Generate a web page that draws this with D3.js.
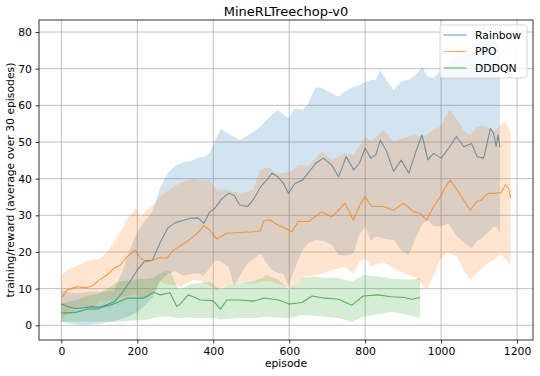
<!DOCTYPE html>
<html>
<head>
<meta charset="utf-8">
<script src="https://cdn.jsdelivr.net/npm/d3@7"></script>
<style>
  html, body { margin: 0; padding: 0; background: #fff; }
  svg { display: block; font-family: "DejaVu Sans", sans-serif; }
</style>
</head>
<body>
<svg id="chart" width="540" height="376"></svg>
<script>
// ---------------- data ----------------
const title = "MineRLTreechop-v0";
const xLabel = "episode";
const yLabel = "training/reward (average over 30 episodes)";
const xTicks = [0, 200, 400, 600, 800, 1000, 1200];
const yTicks = [0, 10, 20, 30, 40, 50, 60, 70, 80];
const seriesNames = ["Rainbow", "PPO", "DDDQN"];

const rainbowEp   = [0,20,40,60,80,100,120,140,160,180,200,220,240,260,280,300,320,340,360,375,390,405,420,440,455,470,490,505,525,540,555,570,585,598,615,635,650,670,690,712,730,750,770,785,800,815,828,840,855,875,895,915,935,950,965,980,1000,1020,1040,1060,1080,1095,1112,1130,1138,1145,1150,1155];
const rainbowMean = [5.8,5.0,4.6,4.8,5.1,4.9,5.6,6.5,8.8,11.8,15.1,17.6,17.8,22.5,26.5,28.0,28.6,29.2,29.3,27.8,30.8,32.0,34.2,36.0,35.5,32.8,32.4,34.2,37.8,39.5,41.5,40.5,38.7,36.0,38.7,39.6,41.5,44.2,45.6,43.7,40.5,46.0,42.4,44.2,48.3,45.6,46.5,50.5,47.8,42.0,45.1,41.5,47.8,51.9,45.1,46.9,45.6,48.3,51.5,48.7,49.6,46.0,45.6,53.7,52.4,48.7,51.9,48.5];
const rainbowLo   = [1.0,0.5,0.2,0.0,0.2,0.4,0.8,1.2,1.8,2.5,3.5,5.5,7.5,12.0,14.0,14.8,13.5,14.0,14.2,13.5,15.5,17.8,17.5,16.0,10.8,13.5,16.9,18.0,19.6,17.0,15.0,14.2,14.0,10.8,15.5,20.5,22.4,23.3,23.0,22.0,19.2,19.0,19.7,25.0,26.9,23.0,24.2,24.0,23.5,23.3,20.5,19.2,24.2,27.5,28.7,27.0,27.0,27.8,24.5,22.5,21.0,23.0,24.2,26.0,26.9,26.9,26.0,25.0];
const rainbowHi   = [9.5,9.0,8.8,9.0,9.2,9.0,9.2,9.6,14.5,20.5,25.5,28.5,31.0,37.5,41.5,43.5,44.5,44.8,45.8,46.0,46.9,50.5,53.7,52.2,51.5,50.5,51.8,52.8,54.2,56.0,57.5,58.7,57.5,56.5,59.2,58.7,60.5,65.1,64.5,63.3,62.4,64.0,65.1,65.5,66.4,66.9,67.0,69.6,67.0,64.2,66.5,67.0,68.5,70.5,67.8,67.5,69.6,71.5,73.0,74.0,74.5,75.0,76.0,78.5,79.3,77.5,76.5,76.0];

const ppoEp   = [0,15,40,65,85,100,120,138,155,173,195,208,225,243,260,278,295,313,330,348,366,375,390,410,436,471,506,524,533,550,563,581,607,624,651,686,712,730,747,769,786,800,817,848,875,901,927,945,962,980,998,1016,1024,1042,1059,1077,1094,1106,1123,1141,1158,1169,1178,1183];
const ppoMean = [7.4,9.6,10.5,10.2,11.0,12.4,13.7,15.5,16.4,18.7,20.5,18.3,17.3,17.8,18.5,18.3,20.5,21.6,22.8,24.2,26.0,27.2,26.0,23.5,25.1,25.3,25.5,25.8,28.5,28.8,27.8,26.9,25.5,28.3,28.3,31.0,29.6,31.4,33.3,28.7,32.8,35.1,32.4,32.4,31.4,33.3,31.0,30.5,28.7,32.4,35.1,38.5,39.6,36.9,34.2,31.4,33.7,34.2,36.0,36.0,36.2,38.3,37.4,34.7];
const ppoLo   = [1.5,3.0,4.8,4.5,5.0,6.5,6.5,7.0,7.5,8.0,8.5,7.5,7.5,9.0,12.0,11.0,11.0,10.5,11.5,12.4,12.0,11.5,11.0,9.6,11.0,11.4,11.5,11.8,12.0,12.0,11.5,11.0,9.8,12.0,13.3,14.0,15.0,15.5,16.0,14.0,17.5,18.3,16.0,17.3,15.5,14.2,13.3,12.0,9.6,13.5,18.0,20.0,19.5,18.8,15.0,12.4,14.2,15.5,17.0,18.0,19.6,18.0,17.0,16.5];
const ppoHi   = [13.7,15.0,16.2,17.5,18.0,18.0,20.0,22.5,25.5,28.7,31.9,29.6,31.4,33.0,35.1,36.5,37.8,38.7,39.5,40.1,39.6,39.6,39.6,37.0,36.9,36.0,37.0,42.4,42.8,43.0,41.5,41.5,42.0,43.7,43.5,47.4,45.1,46.0,46.9,46.5,49.0,51.5,50.2,53.3,50.0,51.0,51.9,51.5,51.9,53.5,54.2,57.8,58.7,56.0,53.3,52.0,54.0,54.5,54.0,53.0,55.0,55.5,53.7,53.0];

const dddqnEp   = [0,20,41,67,94,112,129,147,173,190,216,243,260,286,304,313,334,348,366,392,401,419,436,471,506,532,537,572,600,634,660,695,730,765,795,834,869,904,922,945];
const dddqnMean = [3.4,3.4,3.6,4.4,4.4,5.1,5.5,6.2,7.4,7.4,7.4,9.0,8.3,8.9,5.1,5.8,8.3,7.8,6.9,6.8,6.6,4.4,6.9,6.9,6.6,7.4,7.4,6.9,5.8,6.2,8.0,7.4,7.1,5.5,8.0,8.3,7.8,7.6,7.1,7.6];
const dddqnLo   = [1.0,1.0,1.0,1.0,1.0,1.0,1.0,1.0,1.2,1.3,1.4,2.0,2.3,2.5,2.0,2.0,2.2,2.0,2.0,2.0,2.0,1.6,1.8,2.0,2.0,2.3,2.3,2.1,1.9,2.8,2.6,2.3,2.0,1.0,2.3,3.0,3.7,3.0,2.5,2.0];
const dddqnHi   = [6.0,6.5,7.0,8.0,8.5,9.5,10.5,11.9,12.2,12.4,12.6,13.0,14.2,15.0,10.5,9.6,11.0,11.4,11.6,11.8,11.0,9.6,11.0,11.4,12.0,13.0,13.7,12.4,9.6,12.8,13.3,13.0,13.0,11.9,13.7,13.3,12.8,12.5,12.5,12.8];

const colors = ["#1f77b4", "#ff7f0e", "#2ca02c"];

// ---------------- chart ----------------
const svg = d3.select("#chart");
const pL = 39, pR = 533, pT = 20, pB = 340;

const x = d3.scaleLinear().domain([-58.8, 1242]).range([pL, pR]);
const y = d3.scaleLinear().domain([-4.01, 83.28]).range([pB, pT]);

// grid
const grid = svg.append("g");
grid.selectAll("line.vx").data(xTicks).join("line")
  .attr("class", "vx")
  .attr("x1", d => x(d)).attr("x2", d => x(d))
  .attr("y1", pT).attr("y2", pB)
  .attr("stroke", "#b0b0b0").attr("stroke-width", 0.8);
grid.selectAll("line.hy").data(yTicks).join("line")
  .attr("class", "hy")
  .attr("x1", pL).attr("x2", pR)
  .attr("y1", d => y(d)).attr("y2", d => y(d))
  .attr("stroke", "#b0b0b0").attr("stroke-width", 0.8);

const series = [
  { ep: rainbowEp, mean: rainbowMean, lo: rainbowLo, hi: rainbowHi },
  { ep: ppoEp, mean: ppoMean, lo: ppoLo, hi: ppoHi },
  { ep: dddqnEp, mean: dddqnMean, lo: dddqnLo, hi: dddqnHi }
];

const plot = svg.append("g");
series.forEach((s, i) => {
  const pts = s.ep.map((e, k) => ({ e, m: s.mean[k], lo: s.lo[k], hi: s.hi[k] }));
  const area = d3.area().x(d => x(d.e)).y0(d => y(d.lo)).y1(d => y(d.hi));
  const line = d3.line().x(d => x(d.e)).y(d => y(d.m));
  plot.append("path").datum(pts).attr("d", area)
    .attr("fill", colors[i]).attr("fill-opacity", 0.2).attr("stroke", "none");
  plot.append("path").datum(pts).attr("d", line)
    .attr("fill", "none").attr("stroke", colors[i]).attr("stroke-opacity", 0.75)
    .attr("stroke-width", 1.1).attr("stroke-linejoin", "round");
});

// axes
const fs = "10.8px";
const xAxis = svg.append("g").attr("transform", `translate(0,${pB})`)
  .call(d3.axisBottom(x).tickValues(xTicks).tickSize(3.5).tickPadding(3.5).tickFormat(d3.format("d")));
const yAxis = svg.append("g").attr("transform", `translate(${pL},0)`)
  .call(d3.axisLeft(y).tickValues(yTicks).tickSize(3.5).tickPadding(3.5).tickFormat(d3.format("d")));
[xAxis, yAxis].forEach(a => {
  a.select(".domain").remove();
  a.selectAll("text").attr("font-size", fs).attr("fill", "#000").attr("font-family", "DejaVu Sans");
  a.selectAll("line").attr("stroke", "#000").attr("stroke-width", 0.8);
});

// spines
svg.append("rect").attr("x", pL).attr("y", pT)
  .attr("width", pR - pL).attr("height", pB - pT)
  .attr("fill", "none").attr("stroke", "#000").attr("stroke-width", 0.8);

// title and labels
svg.append("text").attr("x", (pL + pR) / 2).attr("y", 15.5)
  .attr("text-anchor", "middle").attr("font-size", "13px").text(title);
svg.append("text").attr("x", (pL + pR) / 2).attr("y", 367)
  .attr("text-anchor", "middle").attr("font-size", fs).text(xLabel);
svg.append("text")
  .attr("transform", `translate(14,${(pT + pB) / 2}) rotate(-90)`)
  .attr("text-anchor", "middle").attr("font-size", fs).text(yLabel);

// legend
const lg = svg.append("g");
lg.append("rect").attr("x", 440).attr("y", 25).attr("width", 87).attr("height", 53)
  .attr("rx", 2.5).attr("fill", "#fff").attr("fill-opacity", 0.8)
  .attr("stroke", "#cccccc").attr("stroke-width", 0.8);
seriesNames.forEach((n, i) => {
  const cy = 35 + i * 16.5;
  lg.append("line").attr("x1", 443.5).attr("x2", 466.5).attr("y1", cy).attr("y2", cy)
    .attr("stroke", colors[i]).attr("stroke-opacity", 0.6).attr("stroke-width", 1.3);
  lg.append("text").attr("x", 475).attr("y", cy).attr("dy", "0.36em")
    .attr("font-size", fs).text(n);
});
</script>
</body>
</html>
